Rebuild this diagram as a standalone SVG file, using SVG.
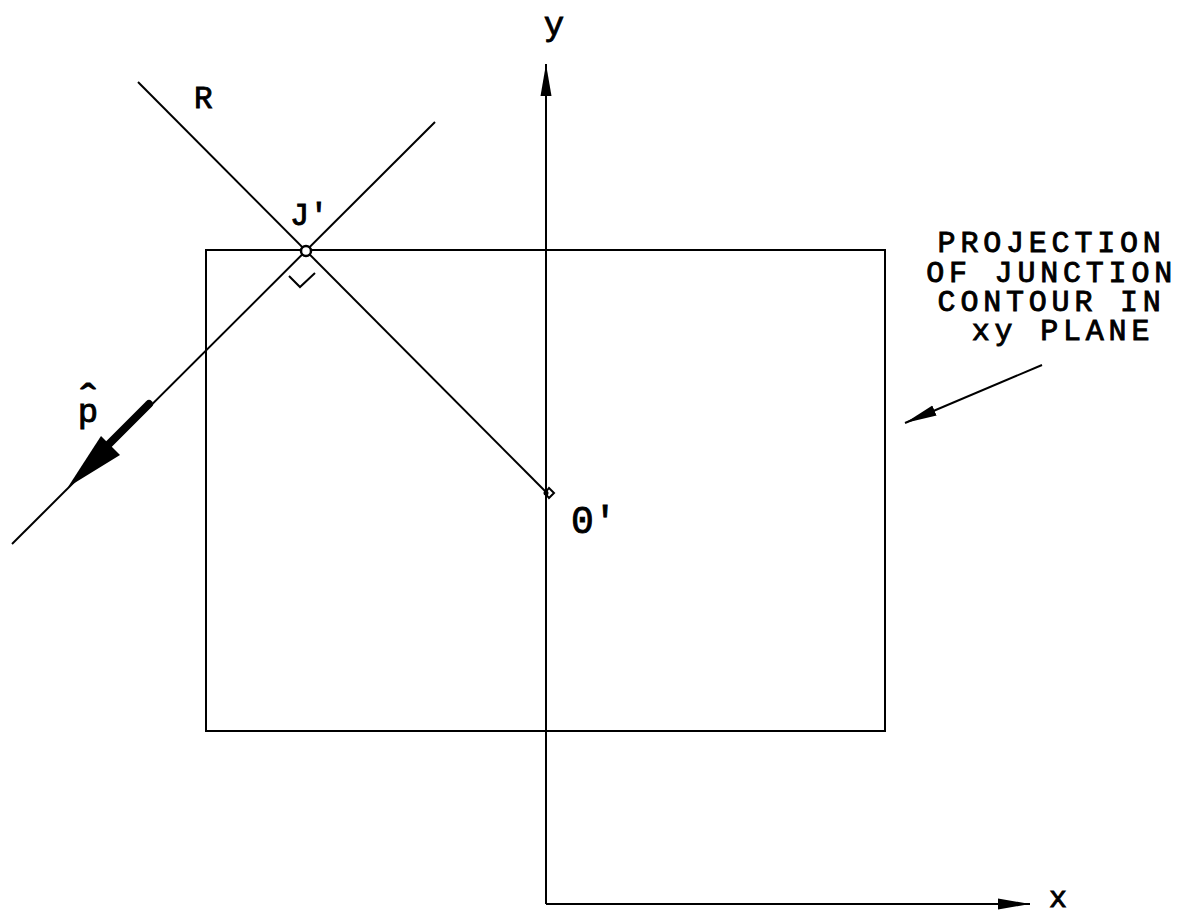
<svg xmlns="http://www.w3.org/2000/svg" width="1197" height="918" viewBox="0 0 1197 918">
<style>
.ln{stroke:#000;stroke-width:2;fill:none}
.lbl{font-family:"Liberation Mono","Courier New",monospace;fill:#000;stroke:#000;stroke-width:0.9}
</style>
<defs>
<marker id="ah" viewBox="0 0 32 12" refX="32" refY="6" markerWidth="32" markerHeight="12" markerUnits="userSpaceOnUse" orient="auto">
<path d="M0,0.5 L32,6 L0,11.5 Z" fill="#000"/>
</marker>
</defs>
<rect width="1197" height="918" fill="#fff"/>
<g id="contour">
<rect class="ln" x="206" y="250" width="679" height="481"/>
</g>
<g id="connectors">
<line class="ln" x1="546" y1="904" x2="546" y2="64" marker-end="url(#ah)"/>
<line class="ln" x1="546" y1="904" x2="1030" y2="904" marker-end="url(#ah)"/>
<line class="ln" x1="138" y1="82" x2="546" y2="492"/>
<line class="ln" x1="435" y1="122" x2="12" y2="544"/>
<line x1="149" y1="404" x2="108" y2="445" stroke="#000" stroke-width="8" stroke-linecap="round"/>
<polygon points="68,487 101,436 120,455" fill="#000"/>
<polyline class="ln" points="289,276 300,287 315,273"/>
<line class="ln" x1="1042" y1="365" x2="905" y2="423" marker-end="url(#ah)"/>
</g>
<g id="J">
<circle cx="306" cy="251" r="5" fill="#fff" stroke="#000" stroke-width="2.5"/>
<text class="lbl" x="290" y="225" font-size="32">J′</text>
</g>
<g id="O">
<polygon points="545,493 549,488 554,493 549,498" fill="#fff" stroke="#000" stroke-width="2"/>
<circle cx="546" cy="493" r="2.5" fill="#000"/>
<text class="lbl" x="571" y="533" font-size="38">0′</text>
</g>
<g id="labels">
<text class="lbl" x="88" y="422" font-size="34" text-anchor="middle">p</text>
<text class="lbl" x="88" y="416" font-size="46" text-anchor="middle">ˆ</text>
<text class="lbl" x="194" y="108" font-size="31">R</text>
<text class="lbl" x="554" y="35" font-size="34" text-anchor="middle">y</text>
<text class="lbl" x="1049" y="907" font-size="30">x</text>
</g>
<g id="note">
<text class="lbl" font-size="30" letter-spacing="4.8" text-anchor="middle">
<tspan x="1063" y="252">PROJECTION</tspan>
<tspan x="1063" y="282">OF JUNCTION</tspan>
<tspan x="1063" y="311">CONTOUR IN</tspan>
<tspan x="1063" y="340">xy PLANE</tspan>
</text>
</g>
</svg>
